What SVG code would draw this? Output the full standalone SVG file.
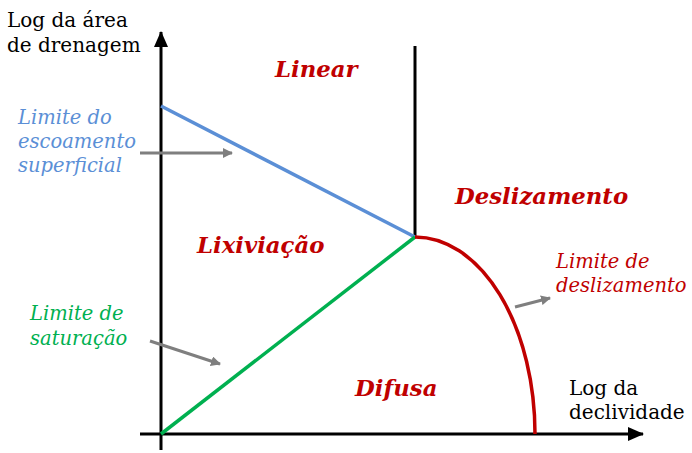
<svg xmlns="http://www.w3.org/2000/svg" width="692" height="453" viewBox="0 0 692 453">
<defs>
<marker id="ah" viewBox="0 0 10 10" refX="9" refY="5" markerWidth="10" markerHeight="10" markerUnits="userSpaceOnUse" orient="auto"><path d="M0,0 L10,5 L0,10 z" fill="#7f7f7f"/></marker>
<marker id="axh" viewBox="0 0 16 14" refX="15" refY="7" markerWidth="16" markerHeight="14" markerUnits="userSpaceOnUse" orient="auto"><path d="M0,0 L16,7 L0,14 z" fill="#000"/></marker>
</defs>
<style>
.t{font-family:"DejaVu Serif","Liberation Serif",serif;font-size:20px;fill:#000}
.i{font-family:"DejaVu Serif","Liberation Serif",serif;font-style:italic;font-size:19.5px}
.b{font-family:"DejaVu Serif","Liberation Serif",serif;font-style:italic;font-weight:bold;font-size:22.8px;fill:#c00000}
.ax{stroke:#000;stroke-width:3;fill:none}
.g{stroke:#7f7f7f;stroke-width:3;fill:none}
</style>
<rect width="692" height="453" fill="#fff"/>
<g id="connectors">
<line class="ax" x1="161" y1="450" x2="161" y2="32" marker-end="url(#axh)"/>
<line class="ax" x1="140" y1="434" x2="643" y2="434" marker-end="url(#axh)"/>
<line class="ax" x1="415" y1="46" x2="415" y2="237"/>
<line x1="161" y1="106" x2="415" y2="237" stroke="#5b8fd6" stroke-width="3.5"/>
<line x1="161" y1="434" x2="415" y2="237" stroke="#00b050" stroke-width="3.5"/>
<path d="M415,237 A120,197 0 0 1 535,434" stroke="#c00000" stroke-width="3.5" fill="none"/>
<line class="g" x1="140" y1="153" x2="232" y2="153" marker-end="url(#ah)"/>
<line class="g" x1="150" y1="341" x2="220" y2="364" marker-end="url(#ah)"/>
<line class="g" x1="515" y1="307" x2="550" y2="298" marker-end="url(#ah)"/>
</g>
<g id="y-axis-label"><text class="t" x="7" y="27">Log da área</text><text class="t" x="7" y="52">de drenagem</text></g>
<g id="x-axis-label"><text class="t" x="569" y="395">Log da</text><text class="t" x="569" y="419">declividade</text></g>
<g id="limite-escoamento"><text class="i" fill="#5b8fd6" x="18" y="124">Limite do</text><text class="i" fill="#5b8fd6" x="18" y="148">escoamento</text><text class="i" fill="#5b8fd6" x="18" y="172">superficial</text></g>
<g id="limite-saturacao"><text class="i" fill="#00b050" x="30" y="320">Limite de</text><text class="i" fill="#00b050" x="30" y="345">saturação</text></g>
<g id="limite-deslizamento"><text class="i" fill="#c00000" x="556" y="268">Limite de</text><text class="i" fill="#c00000" x="556" y="292">deslizamento</text></g>
<g id="linear"><text class="b" x="275" y="77">Linear</text></g>
<g id="deslizamento"><text class="b" x="455" y="204">Deslizamento</text></g>
<g id="lixiviacao"><text class="b" x="197" y="253">Lixiviação</text></g>
<g id="difusa"><text class="b" x="355" y="396">Difusa</text></g>
</svg>
